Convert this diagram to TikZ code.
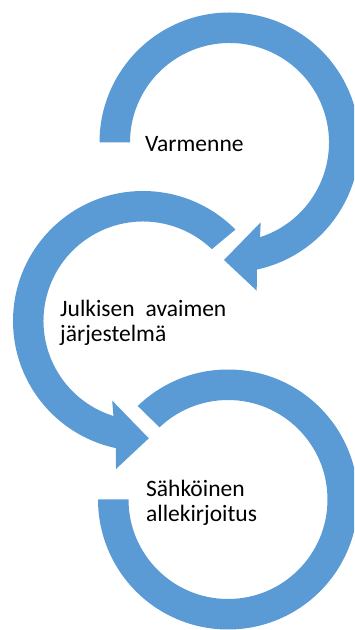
\documentclass[tikz,border=0pt]{standalone}
\usepackage{fontspec}
\setmainfont{Carlito}
\definecolor{ringblue}{HTML}{5B9BD5}
\begin{document}
\begin{tikzpicture}[x=1pt,y=1pt,
    ring/.style={fill=ringblue, draw=none},
    label/.style={anchor=base west, inner sep=0pt, text=black,
                  font=\fontsize{23.5}{25.5}\selectfont}]
  \useasboundingbox (0,0) rectangle (354,630);
  \clip (0,0) rectangle (354,630);

  % ring centres
  \coordinate (c1) at (229.5,487.5);
  \coordinate (c2) at (143,309);
  \coordinate (c3) at (228,130.5);

  % top ring: clockwise, head pointing left at the bottom
  \begin{scope}[shift={(c1)}]
    \fill[ring] (180:130) arc[start angle=180, end angle=-77.8, radius=130]
      -- (27.2,-148.2) -- (-5.5,-117.5) -- (31.2,-79.8)
      -- (-72.15:99.5) arc[start angle=-72.15, end angle=180, radius=99.5]
      -- cycle;
  \end{scope}

  % middle ring: counter-clockwise, head pointing right at the bottom
  \begin{scope}[shift={(c2)}]
    \fill[ring] (44.7:130) arc[start angle=44.7, end angle=258.0, radius=130]
      -- (-27.0,-148.0) -- (5.8,-117.3) -- (-30.8,-79.6)
      -- (252.7:99.5) arc[start angle=252.7, end angle=46.2, radius=99.5]
      -- cycle;
  \end{scope}

  % bottom ring: clockwise, open end on the left
  \begin{scope}[shift={(c3)}]
    \fill[ring] (134:130) arc[start angle=134, end angle=-180, radius=130]
      -- (-180:99.5) arc[start angle=-180, end angle=133.5, radius=99.5]
      -- cycle;
  \end{scope}

  % labels
  \node[label] (varmenne) at (145,478.3) {Varmenne};
  \node[label] (julkisen) at (60,313) {Julkisen\hspace{11pt}avaimen};
  \node[label] (jarjestelma) at (60,288) {järjestelmä};
  \node[label] (sahkoinen) at (146,133.3) {Sähköinen};
  \node[label] (allekirjoitus) at (146,108.3) {allekirjoitus};
\end{tikzpicture}
\end{document}
